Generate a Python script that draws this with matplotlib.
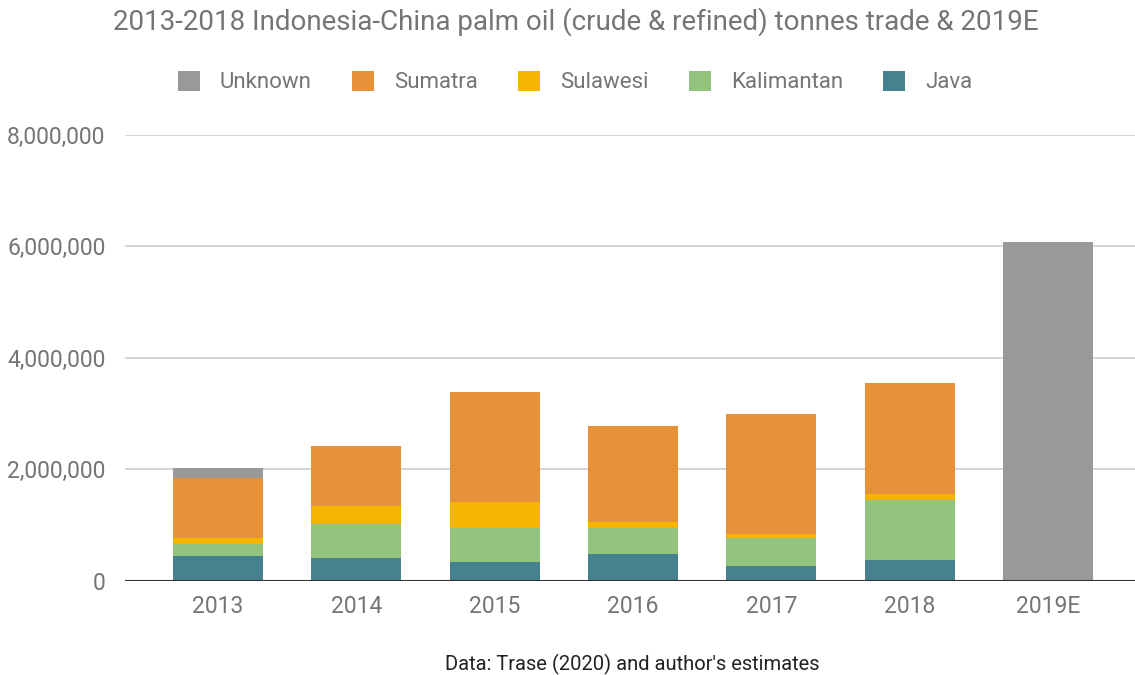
import matplotlib
matplotlib.use("Agg")
import matplotlib.pyplot as plt
from matplotlib.ticker import FuncFormatter
from matplotlib.patches import Patch
import numpy as np

plt.rcParams['font.family'] = ['Roboto', 'DejaVu Sans']

years = ["2013", "2014", "2015", "2016", "2017", "2018", "2019E"]
java = [440000, 400000, 330000, 480000, 260000, 370000, 0]
kalimantan = [220000, 620000, 620000, 470000, 510000, 1080000, 0]
sulawesi = [110000, 320000, 460000, 100000, 70000, 110000, 0]
sumatra = [1080000, 1080000, 1980000, 1730000, 2160000, 1980000, 0]
unknown = [170000, 0, 0, 0, 0, 0, 6080000]

series = [("Java", java, "#45818e"),
          ("Kalimantan", kalimantan, "#93c47d"),
          ("Sulawesi", sulawesi, "#f4b400"),
          ("Sumatra", sumatra, "#e69138"),
          ("Unknown", unknown, "#999999")]

fig = plt.figure(figsize=(11.35, 6.75), dpi=100)
ax = fig.add_axes([125 / 1135, (675 - 580.7) / 675, 1 - 125 / 1135, 445.7 / 675])

x = np.arange(len(years))
bottom = np.zeros(len(years))
for name, vals, col in series:
    v = np.array(vals, dtype=float)
    ax.bar(x, v, bottom=bottom, width=0.65, color=col, label=name, zorder=3, linewidth=0)
    bottom += v

ax.set_ylim(0, 8000000)
ax.set_yticks([0, 2000000, 4000000, 6000000, 8000000])
ax.yaxis.set_major_formatter(FuncFormatter(lambda v, p: f"{int(v):,}"))
ax.set_xlim((125 - 218) / 138.33, (1135 - 218) / 138.33)
ax.set_xticks(x)
ax.set_xticklabels(years)
ax.grid(axis='y', color='#cccccc', linewidth=1.2, zorder=0)
ax.axhline(0, color='#333333', linewidth=1.5, zorder=4)
for s in ax.spines.values():
    s.set_visible(False)
ax.tick_params(axis='both', length=0, labelsize=16.5, labelcolor='#757575')
ax.tick_params(axis='y', pad=14)
ax.tick_params(axis='x', pad=10)

fig.text(576 / 1135, 1 - 22 / 675, "2013-2018 Indonesia-China palm oil (crude & refined) tonnes trade & 2019E",
         ha='center', va='center', fontsize=20, color='#757575')

handles = [Patch(facecolor=c, edgecolor='none', label=n) for n, _, c in reversed(series)]
fig.legend(handles=handles, loc='center', bbox_to_anchor=(575 / 1135, 1 - 82 / 675), ncol=5,
           frameon=False, fontsize=16, labelcolor='#757575', handlelength=1.0, handleheight=1.0,
           columnspacing=1.8, handletextpad=0.9)

fig.text(632 / 1135, 1 - 664 / 675, "Data: Trase (2020) and author's estimates",
         ha='center', va='center', fontsize=14.5, color='#222222')

fig.savefig("out.png", dpi=100)
